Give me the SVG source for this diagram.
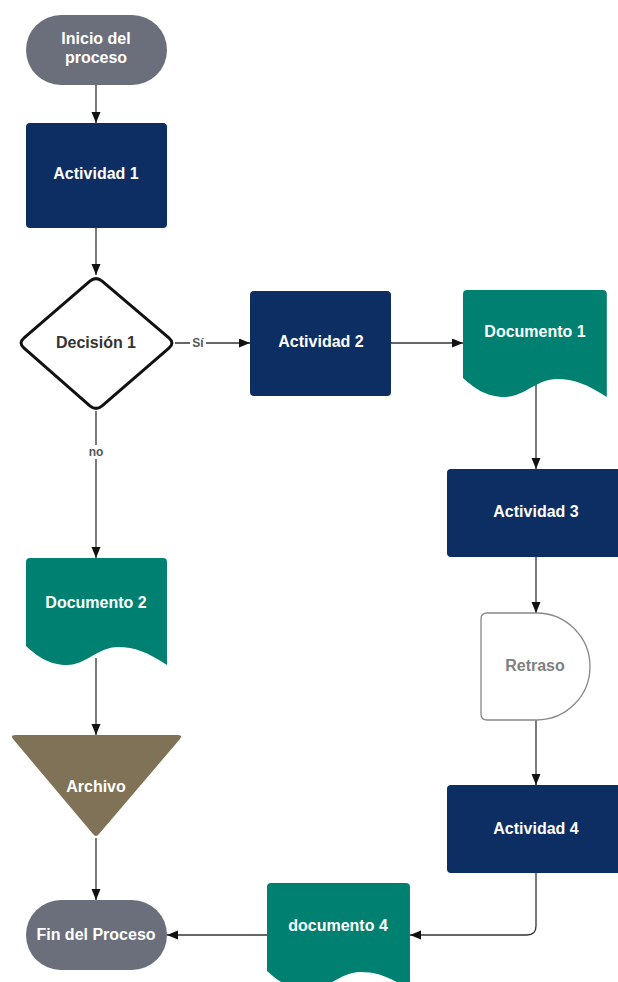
<svg xmlns="http://www.w3.org/2000/svg" width="618" height="982" viewBox="0 0 618 982">
<style>
.t{font-family:"Liberation Sans",Arial,sans-serif;font-weight:bold;font-size:16px;text-anchor:middle;fill:#fff}
.d{fill:#333}
.g{fill:#808080}
.lbl{font-family:"Liberation Sans",Arial,sans-serif;font-weight:bold;font-size:12px;text-anchor:middle;fill:#555}
.act{fill:#0d2e63}
.doc{fill:#008070}
.term{fill:#6b6f7c}
.c{fill:none;stroke:#333;stroke-width:1.3}
</style>
<defs>
<marker id="ah" markerUnits="userSpaceOnUse" markerWidth="12" markerHeight="10" refX="11" refY="4.5" orient="auto">
<path d="M0,0 L11,4.5 L0,9 Z" fill="#111"/>
</marker>
<path id="docshape" d="M4,0 H137 Q141,0 141,4 V107 C121,94 109,89 92,89 C72,89 60,107 41,107 C22,107 10,97 0,88 V4 Q0,0 4,0 Z"/>
</defs>

<g id="connectors">
<path class="c" d="M96,85 V123" marker-end="url(#ah)"/>
<path class="c" d="M96,228 V275" marker-end="url(#ah)"/>
<path class="c" d="M175,343 H250" marker-end="url(#ah)"/>
<path class="c" d="M391,343 H463" marker-end="url(#ah)"/>
<path class="c" d="M536,382 V469" marker-end="url(#ah)"/>
<path class="c" d="M536,557 V613" marker-end="url(#ah)"/>
<path class="c" d="M536,720 V785" marker-end="url(#ah)"/>
<path class="c" d="M536,873 V926 Q536,935 527,935 H410" marker-end="url(#ah)"/>
<path class="c" d="M267,935 H167" marker-end="url(#ah)"/>
<path class="c" d="M96,411 V558" marker-end="url(#ah)"/>
<path class="c" d="M96,658 V735" marker-end="url(#ah)"/>
<path class="c" d="M96,838 V900" marker-end="url(#ah)"/>
<rect x="190" y="336" width="16" height="13" fill="#fff"/>
<text class="lbl" x="198" y="347">Sí</text>
<rect x="86" y="445" width="20" height="14" fill="#fff"/>
<text class="lbl" x="96" y="456">no</text>
</g>

<g id="inicio">
<rect class="term" x="26" y="15" width="141" height="70" rx="35"/>
<text class="t" x="96" y="44">Inicio del</text>
<text class="t" x="96" y="63">proceso</text>
</g>

<g id="actividad1">
<rect class="act" x="26" y="123" width="141" height="105" rx="4"/>
<text class="t" x="96" y="179">Actividad 1</text>
</g>

<g id="decision1">
<path d="M89.9,281.2 Q96,276 102.1,281.2 L168.9,337.8 Q175,343 168.9,348.2 L102.1,405.8 Q96,411 89.9,405.8 L24.1,348.2 Q18,343 24.1,337.8 Z" fill="#fff" stroke="#111" stroke-width="3"/>
<text class="t d" x="96" y="348">Decisión 1</text>
</g>

<g id="actividad2">
<rect class="act" x="250" y="291" width="141" height="105" rx="4"/>
<text class="t" x="321" y="347">Actividad 2</text>
</g>

<g id="documento1">
<use href="#docshape" class="doc" transform="translate(463,290) scale(1.02,1)"/>
<text class="t" x="535" y="337">Documento 1</text>
</g>

<g id="actividad3">
<rect class="act" x="447" y="469" width="178" height="88" rx="4"/>
<text class="t" x="536" y="517">Actividad 3</text>
</g>

<g id="retraso">
<path d="M536.5,613 H487 Q481,613 481,619 V714 Q481,720 487,720 H536.5 A53.5,53.5 0 0 0 536.5,613 Z" fill="#fff" stroke="#888" stroke-width="1.3"/>
<text class="t g" x="535" y="671">Retraso</text>
</g>

<g id="actividad4">
<rect class="act" x="447" y="785" width="178" height="88" rx="4"/>
<text class="t" x="536" y="834">Actividad 4</text>
</g>

<g id="documento4">
<use href="#docshape" class="doc" transform="translate(267,883) scale(1.014,1)"/>
<text class="t" x="338" y="931">documento 4</text>
</g>

<g id="fin">
<rect class="term" x="26" y="900" width="141" height="70" rx="35"/>
<text class="t" x="96" y="940">Fin del Proceso</text>
</g>

<g id="documento2">
<use href="#docshape" class="doc" transform="translate(26,558)"/>
<text class="t" x="96" y="608">Documento 2</text>
</g>

<g id="archivo">
<path d="M15,735 H178 Q183,735 180,739 L99,834 Q96,838 93,834 L13,739 Q10,735 15,735 Z" fill="#7f7256"/>
<text class="t" x="96" y="792">Archivo</text>
</g>
</svg>
